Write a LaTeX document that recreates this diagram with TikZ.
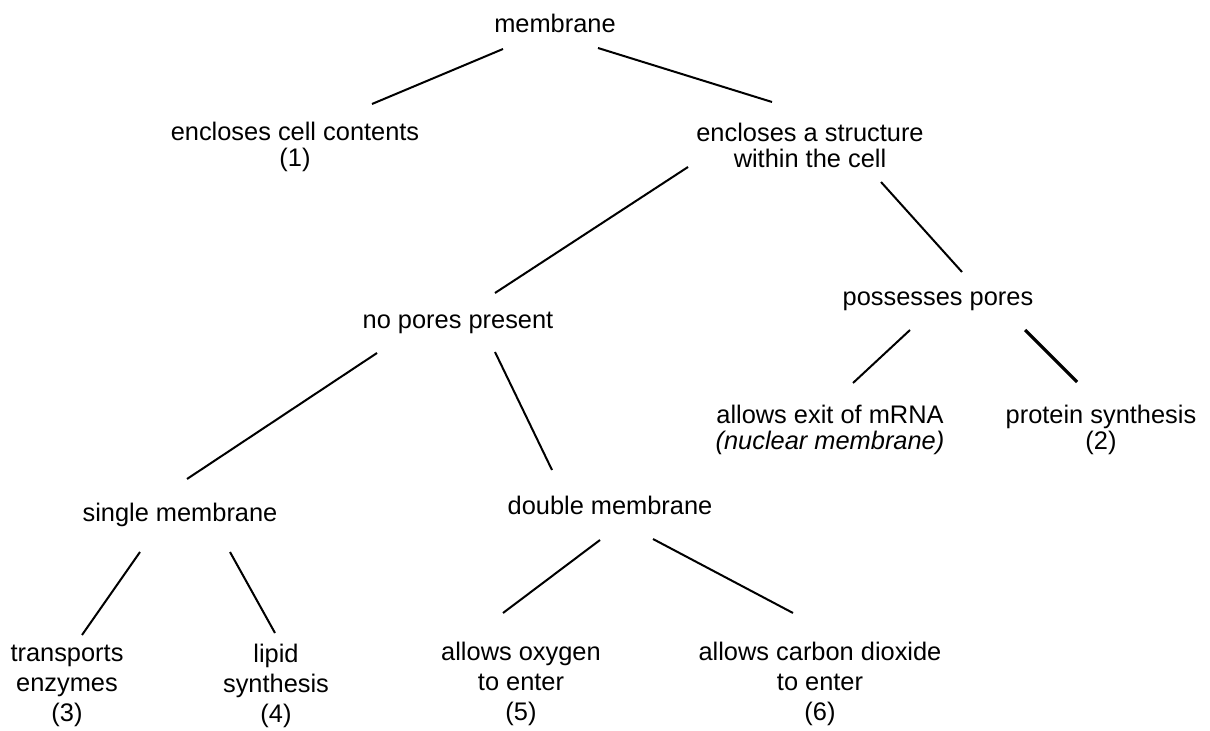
\documentclass[tikz,border=0pt]{standalone}
\usepackage{fontspec}
\setmainfont{Liberation Sans}
\usetikzlibrary{calc}

\begin{document}
\begin{tikzpicture}[
    x=0.5pt, y=-0.5pt,
    lbl/.style={align=center, inner sep=1pt, font=\fontsize{12.7}{13}\selectfont},
    leaf/.style={lbl, font=\fontsize{12.7}{15}\selectfont},
    link/.style={line width=1pt},
]
    \useasboundingbox (0,0) rectangle (1210,731);

    \node[lbl] (mem) at (555,23) {membrane};

    \node[lbl] (cell) at (295,147) {encloses cell contents\\(1)};
    \node[lbl] (struct) at (810,145) {encloses a structure\\within the cell};

    \node[lbl] (nopores) at (458,323) {no pores present};
    \node[lbl] (pores) at (938,301) {possesses pores};

    \node[lbl] (mrna) at (830,430) {allows exit of mRNA\\\textit{(nuclear membrane)}};
    \node[lbl] (prot) at (1101,430) {protein synthesis\\(2)};

    \node[lbl] (single) at (180,515) {single membrane};
    \node[lbl] (double) at (610,505) {double membrane};

    \node[leaf] (trans) at (67,686) {transports\\enzymes\\(3)};
    \node[leaf] (lipid) at (276,686) {lipid\\synthesis\\(4)};
    \node[leaf] (oxy) at (521,684) {allows oxygen\\to enter\\(5)};
    \node[leaf] (co2) at (820,684) {allows carbon dioxide\\to enter\\(6)};

    % branches
    \draw[link] ($(mem)+(-52,26)$) -- ($(cell)+(77,-43)$);
    \draw[link] ($(mem)+(43,25)$) -- ($(struct)+(-38,-43)$);
    \draw[link] ($(struct)+(-122,22)$) -- ($(nopores)+(37,-30)$);
    \draw[link] ($(struct)+(71,37)$) -- ($(pores)+(24,-29)$);
    \draw[link] ($(pores)+(-28,29)$) -- ($(mrna)+(23,-47)$);
    \draw[link, line width=1.6pt] ($(pores)+(87,29)$) -- ($(prot)+(-24,-48)$);
    \draw[link] ($(nopores)+(-81,30)$) -- ($(single)+(7,-36)$);
    \draw[link] ($(nopores)+(37,29)$) -- ($(double)+(-58,-35)$);
    \draw[link] ($(single)+(-40,37)$) -- ($(trans)+(15,-51)$);
    \draw[link] ($(single)+(50,37)$) -- ($(lipid)+(-1,-53)$);
    \draw[link] ($(double)+(-10,35)$) -- ($(oxy)+(-18,-71)$);
    \draw[link] ($(double)+(43,34)$) -- ($(co2)+(-27,-71)$);
\end{tikzpicture}
\end{document}
